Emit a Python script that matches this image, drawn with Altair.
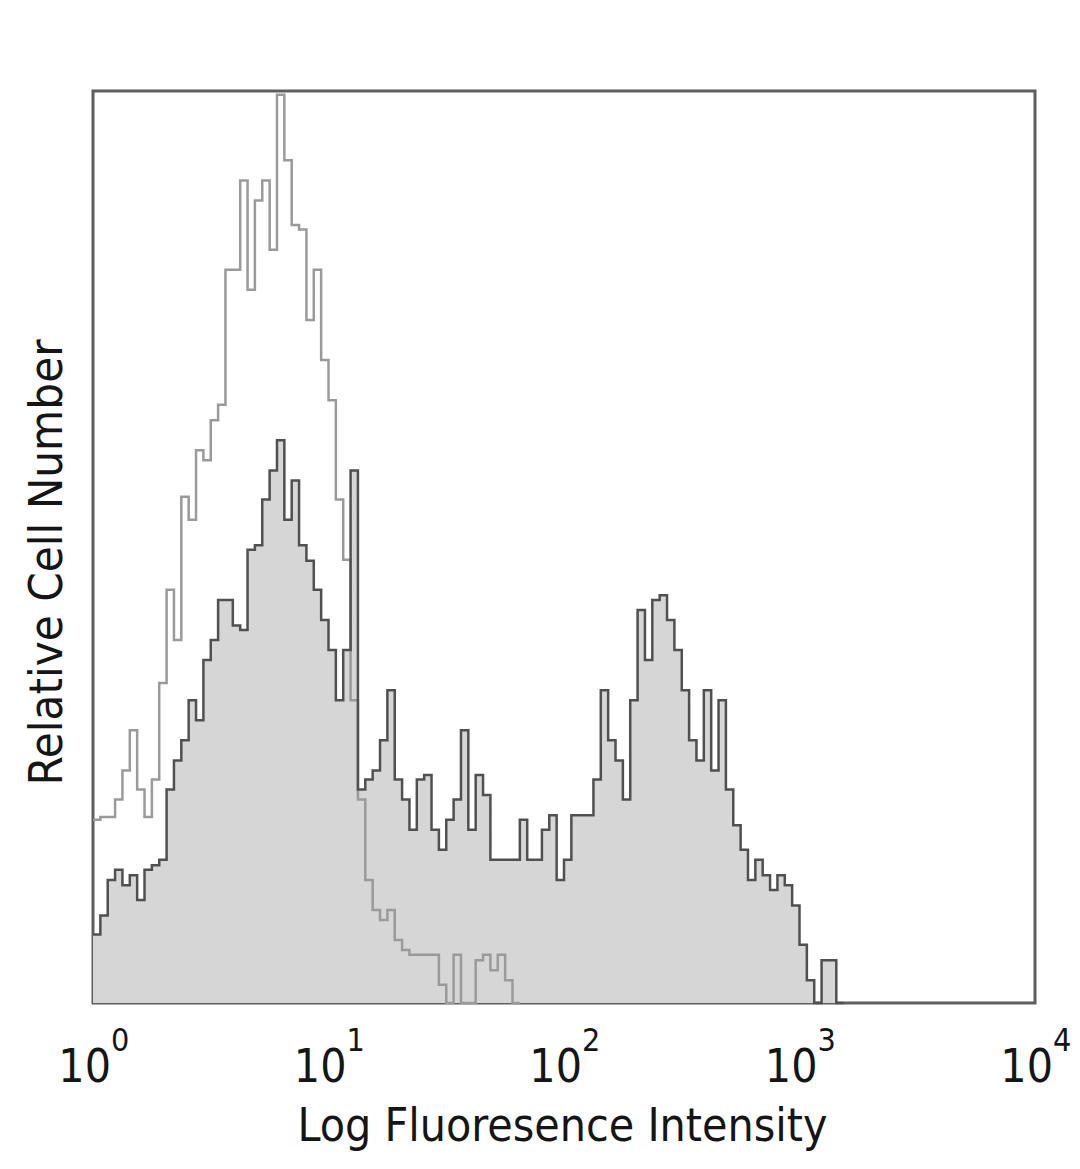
import altair as alt
import numpy as np
import pandas as pd

# ---- data (32 bins per decade, starting at 10^0) ----
BINS_PER_DECADE = 32

stained_counts = [
    7.5, 9.6, 13.5, 14.6, 12.9, 14.0, 11.3, 14.6, 15.1, 15.7,
    23.4, 26.6, 28.8, 33.2, 31.0, 37.6, 39.8, 44.2, 44.2, 41.4,
    40.9, 49.7, 50.2, 55.2, 58.4, 61.7, 53.0, 57.3, 50.2, 48.5,
    45.3, 42.0, 38.7, 33.2, 38.7, 58.4, 23.4, 24.5, 25.5, 28.8,
    34.3, 24.5, 22.3, 19.0, 24.5, 25.0, 19.0, 16.8, 20.1, 22.3,
    29.9, 19.0, 25.0, 22.8, 15.7, 15.7, 15.7, 15.7, 20.1, 15.7,
    15.7, 19.0, 20.6, 13.5, 15.7, 20.6, 20.6, 20.6, 24.5, 34.3,
    28.8, 26.6, 22.3, 33.2, 43.1, 37.6, 44.2, 44.7, 42.0, 38.7,
    34.3, 28.8, 26.6, 34.3, 25.5, 33.2, 23.4, 19.5, 16.8, 13.5,
    15.7, 14.0, 12.4, 14.0, 12.9, 10.7, 6.4, 2.5, 0.0, 4.7,
    4.7, 0.0,
]

control_counts = [
    20.1, 20.4, 20.4, 22.3, 25.5, 29.9, 23.4, 20.4, 24.5, 35.1,
    45.3, 39.8, 55.5, 53.0, 60.6, 59.5, 63.9, 65.6, 80.4, 80.4,
    90.2, 78.2, 88.0, 90.2, 82.6, 99.6, 92.4, 85.3, 84.8, 74.9,
    80.4, 70.5, 66.1, 55.2, 48.6, 33.2, 22.3, 13.5, 10.2, 9.1,
    10.2, 6.9, 5.8, 5.3, 5.3, 5.3, 5.3, 2.0, 0.0, 5.3,
    0.0, 0.0, 4.7, 5.3, 3.6, 5.3, 2.5, 0.0,
]

tick_values = [1, 10, 100, 1000, 10000]
tick_base = ["10", "10", "10", "10", "10"]
tick_exponents = ["0", "1", "2", "3", "4"]

x_title = "Log Fluoresence Intensity"
y_title = "Relative Cell Number"


def step_table(counts, name):
    n = len(counts)
    edges = 10 ** (np.arange(n + 1) / BINS_PER_DECADE)
    vals = list(counts) + [counts[-1]]
    return pd.DataFrame({"intensity": edges, "count": vals, "series": name})


stained = step_table(stained_counts, "stained")
control = step_table(control_counts, "control")
ticks = pd.DataFrame({"intensity": tick_values, "base": tick_base, "exp": tick_exponents})

FONT = "DejaVu Sans Condensed, DejaVu Sans"
W, H = 942, 912

x_scale = alt.Scale(type="log", domain=[1, 10000], nice=False)

x_enc = alt.X(
    "intensity:Q",
    scale=x_scale,
    axis=alt.Axis(
        values=tick_values,
        labels=False,
        ticks=False,
        domain=False,
        grid=False,
        title=x_title,
        titleFont=FONT,
        titleFontSize=46,
        titleFontWeight="normal",
        titleColor="#151515",
        titleX=469,
        titleY=123,
        titleBaseline="middle",
    ),
)

y_enc = alt.Y(
    "count:Q",
    scale=alt.Scale(domain=[0, 100], nice=False),
    axis=alt.Axis(
        labels=False,
        ticks=False,
        domain=False,
        grid=False,
        title=y_title,
        titleFont=FONT,
        titleFontSize=47,
        titleFontWeight="normal",
        titleColor="#151515",
        titleX=-46,
        titleY=471,
        titleAngle=270,
        titleAlign="center",
        titleBaseline="middle",
    ),
)

fill = alt.Chart(stained).mark_area(
    interpolate="step-after", color="#d6d6d6", opacity=1
).encode(x=x_enc, y=y_enc)

ctrl_line = alt.Chart(control).mark_line(
    interpolate="step-after", color="#9a9a9a", strokeWidth=2.5
).encode(x=x_enc, y=y_enc)

stained_line = alt.Chart(stained).mark_line(
    interpolate="step-after", color="#505050", strokeWidth=2.5
).encode(x=x_enc, y=y_enc)

base_text = alt.Chart(ticks).mark_text(
    font=FONT, fontSize=46, color="#151515", align="right",
    baseline="alphabetic", dx=18
).encode(
    x=x_enc,
    y=alt.value(H + 79),
    text="base:N",
)

exp_text = alt.Chart(ticks).mark_text(
    font=FONT, fontSize=32, color="#151515", align="left",
    baseline="alphabetic", dx=18
).encode(
    x=x_enc,
    y=alt.value(H + 48),
    text="exp:N",
)

chart = (
    alt.layer(fill, ctrl_line, stained_line, base_text, exp_text)
    .properties(
        width=W,
        height=H,
        autosize=alt.AutoSizeParams(type="none"),
        padding={"left": 85, "top": 83, "right": 37, "bottom": 150},
        background="white",
    )
    .configure_view(stroke="#5e5e5e", strokeWidth=3)
)

chart.save("out.html", embed_options={"renderer": "svg", "actions": False})
